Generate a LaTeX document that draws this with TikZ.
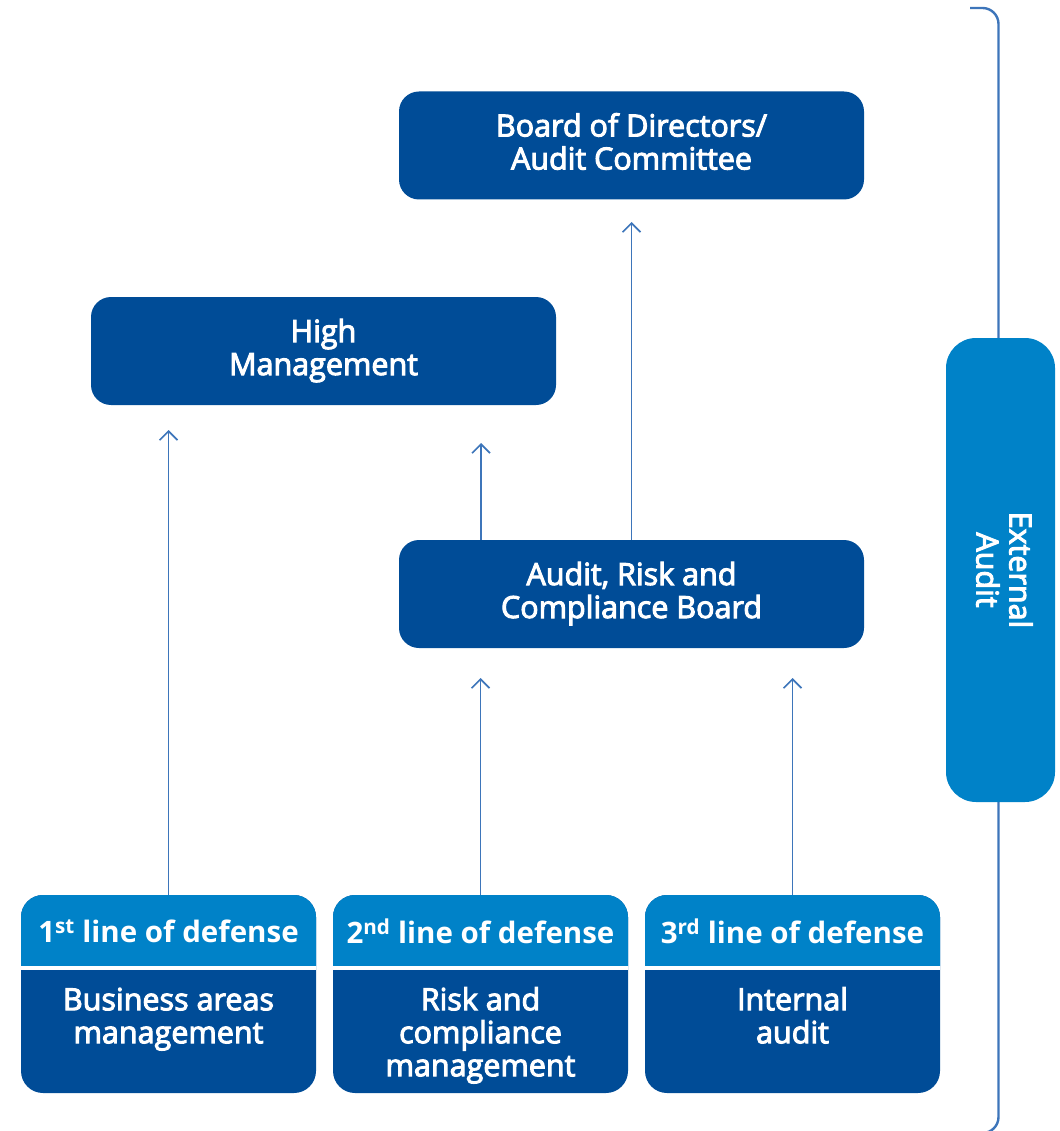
\documentclass[tikz,border=0pt]{standalone}
\usepackage{fontspec}
\setmainfont{Open Sans}
\newcommand\semion{\special{pdf:literal direct 2 Tr 1.0 w}}
\newcommand\semioff{\special{pdf:literal direct 0 Tr}}
\newcommand\sL{\rule{0pt}{24pt}}
\newcommand\sD{\rule[-9pt]{0pt}{9pt}}
\usetikzlibrary{arrows.meta,calc}
\definecolor{darkb}{HTML}{004C97}
\definecolor{lightb}{HTML}{0082C8}
\definecolor{lineb}{HTML}{3D75BA}
\begin{document}
\begin{tikzpicture}[x=1pt,y=-1pt,
  semifont/.style={font=\fontsize{30.5}{33}\selectfont},
  box/.style={fill=darkb, rounded corners=20pt, minimum width=465pt, minimum height=108pt, inner sep=0pt},
  lbl/.style={text=white, align=center, inner sep=0pt, semifont},
  hdr/.style={minimum width=295pt, minimum height=71pt, inner sep=0pt, text=white,
    font=\bfseries\fontsize{29.5}{33.5}\selectfont},
  low/.style={anchor=north, text=white, align=center, inner sep=0pt, semifont},
  arr/.style={draw=lineb, line width=1.6pt, -{Straight Barb[length=9pt,width=18pt,line width=1.6pt]}},
  brk/.style={draw=lineb, line width=2.4pt}
]
\useasboundingbox (0,0) rectangle (1059,1131);

% bracket
\draw[brk, rounded corners=16pt] (970,8) -| (998.5,1133) -- (975,1133);

% main boxes
\node[box] (board) at (631.5,145.5) {};
\node[lbl] (boardt) at (board.center) {\semion\sL Board of Directors/\\\semion\sL Audit Committee\sD\semioff};
\node[box] (high) at (323.5,351) {};
\node[lbl] (hight) at (high.center) {\semion\sL High\\\semion\sL Management\sD\semioff};
\node[box] (arc) at (631.5,594) {};
\node[lbl] (arct) at (arc.center) {\semion\sL Audit, Risk and\\\semion\sL Compliance Board\sD\semioff};

% external audit
\node[fill=lightb, rounded corners=30pt, minimum width=109pt, minimum height=464pt, inner sep=0pt] (ext) at (1000.5,570) {};
\node[rotate=-90, lbl] (extt) at (ext.center) {\semion\sL External\\\semion\sL Audit\sD\semioff};

% bottom boxes
\foreach \n/\x in {1/21,2/333,3/645}{
  \fill[darkb, rounded corners=22pt] (\x,895) rectangle ++(295,198);
  \fill[lightb] (\x,966) [rounded corners=22pt] -- (\x,895) -- (\x+295,895) [sharp corners] -- (\x+295,966) -- cycle;
  \fill[white] (\x,966) rectangle ++(295,4);
}
\node[hdr] (h1) at (168.5,931.5) {1\textsuperscript{st} line of defense};
\node[hdr] (h2) at (480.5,931.5) {2\textsuperscript{nd} line of defense};
\node[hdr] (h3) at (792.5,931.5) {3\textsuperscript{rd} line of defense};
\node[low] (b1) at (168.5,986) {\semion\sL Business areas\\\semion\sL management\semioff};
\node[low] (b2) at (480.5,986) {\semion\sL Risk and\\\semion\sL compliance\\\semion\sL management\semioff};
\node[low] (b3) at (792.5,986) {\semion\sL Internal\\\semion\sL audit\semioff};

% arrows
\coordinate (t1) at (168.5,430);
\coordinate (t2) at (480.5,678);
\coordinate (t3) at (792.5,678);
\coordinate (s4) at (481,540);
\coordinate (t4) at (481,443);
\coordinate (t5) at (631.5,222);
\draw[arr] (h1.north |- 0,895) -- (t1);
\draw[arr] (h2.north |- 0,895) -- (t2);
\draw[arr] (h3.north |- 0,895) -- (t3);
\draw[arr] (s4) -- (t4);
\draw[arr] (arc.north) -- (t5);
\end{tikzpicture}
\end{document}
